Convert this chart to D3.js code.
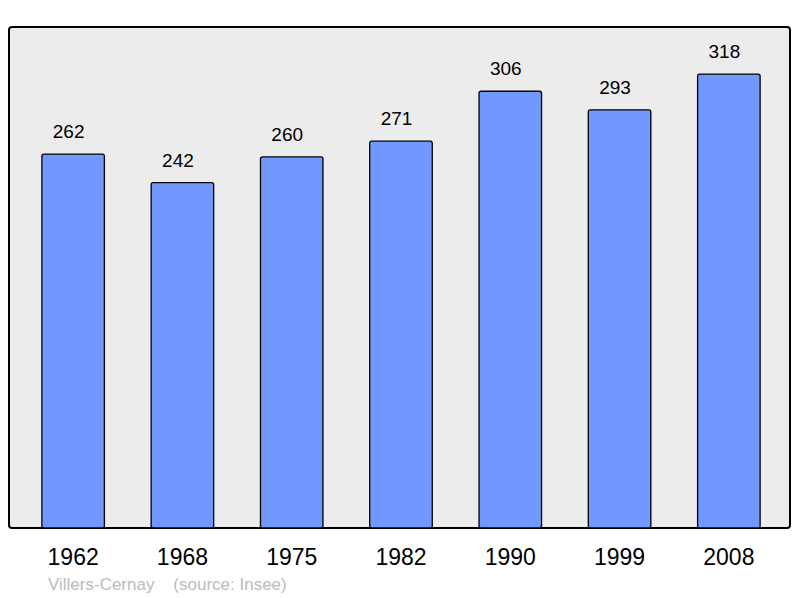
<!DOCTYPE html>
<html lang="en">
<head>
    <meta charset="UTF-8">
    <title>Villers-Cernay population</title>
    <script src="https://d3js.org/d3.v7.min.js"></script>
    <style>
        body { margin: 0; background: #fff; }
        text { font-family: "Liberation Sans", Arial, sans-serif; }
    </style>
</head>
<body>
    <script>
        const years = ["1962", "1968", "1975", "1982", "1990", "1999", "2008"];
        const population = [262, 242, 260, 271, 306, 293, 318];
        const townName = "Villers-Cernay";
        const sourceNote = "(source: Insee)";

        const svgWidth = 800;
        const svgHeight = 598;
        const box = {left: 9, top: 27, right: 790, bottom: 528};

        const svg = d3.select("body").append("svg")
            .attr("width", svgWidth)
            .attr("height", svgHeight);

        svg.append("rect")
            .attr("x", box.left)
            .attr("y", box.top)
            .attr("width", box.right - box.left)
            .attr("height", box.bottom - box.top)
            .attr("rx", 3)
            .attr("fill", "#ececec")
            .attr("stroke", "#000")
            .attr("stroke-width", 2);

        const xScale = d3.scaleBand()
            .domain(years)
            .range([18.5, 783.5])
            .paddingInner(0.428)
            .paddingOuter(0.214);

        const yScale = d3.scaleLinear()
            .domain([0, 351])
            .range([box.bottom, box.top]);

        const data = years.map((y, i) => ({year: y, value: population[i]}));

        svg.selectAll("rect.bar")
            .data(data)
            .enter()
            .append("rect")
            .attr("class", "bar")
            .attr("x", d => xScale(d.year))
            .attr("y", d => yScale(d.value))
            .attr("width", xScale.bandwidth())
            .attr("height", d => box.bottom - yScale(d.value))
            .attr("rx", 2)
            .attr("fill", "#7098ff")
            .attr("stroke", "#000")
            .attr("stroke-width", 1.3);

        // value labels sit a little left of the bar centre
        svg.selectAll("text.value")
            .data(data)
            .enter()
            .append("text")
            .attr("class", "value")
            .attr("x", d => xScale(d.year) + xScale.bandwidth() / 2 - 4.5)
            .attr("y", d => yScale(d.value) - 16)
            .attr("text-anchor", "middle")
            .attr("font-size", 19)
            .attr("fill", "#000")
            .text(d => d.value);

        // year labels under the box
        const xAxis = d3.axisBottom(xScale).tickSize(0).tickPadding(0);
        const axisG = svg.append("g")
            .attr("transform", `translate(0,${box.bottom})`)
            .call(xAxis);
        axisG.select(".domain").remove();
        axisG.selectAll("text")
            .attr("font-family", "Liberation Sans, Arial, sans-serif")
            .attr("font-size", 23)
            .attr("fill", "#000")
            .attr("dy", null)
            .attr("y", 37);

        svg.append("text")
            .attr("x", 48)
            .attr("y", 590)
            .attr("font-size", 17)
            .attr("fill", "#bbb")
            .attr("xml:space", "preserve")
            .style("white-space", "pre")
            .text(townName + "    " + sourceNote);
    </script>
</body>
</html>
